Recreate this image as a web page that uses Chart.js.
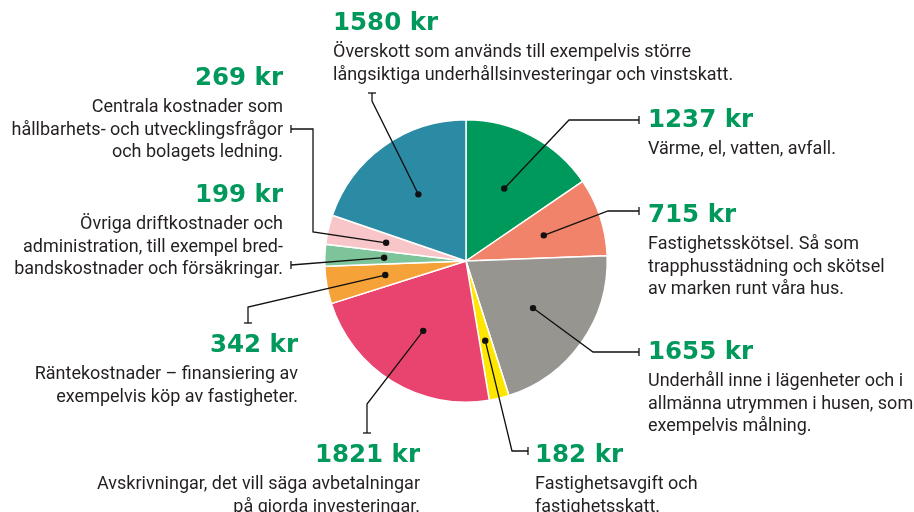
<!DOCTYPE html>
<html>
<head>
<meta charset="utf-8">
<script src="https://cdn.jsdelivr.net/npm/chart.js@4"></script>
<style>
  body { margin: 0; background: #fff; }
</style>
</head>
<body>
<canvas id="kaka" width="914" height="512"></canvas>
<script>
// Vart hyran går, i kronor (summa 8000 kr)
const belopp = [1237, 715, 1655, 182, 1821, 342, 199, 269, 1580];
const rubriker = ['1237 kr', '715 kr', '1655 kr', '182 kr', '1821 kr', '342 kr', '199 kr', '269 kr', '1580 kr'];
const beskrivningar = [
    ['Värme, el, vatten, avfall.'],
    ['Fastighetsskötsel. Så som', 'trapphusstädning och skötsel', 'av marken runt våra hus.'],
    ['Underhåll inne i lägenheter och i', 'allmänna utrymmen i husen, som', 'exempelvis målning.'],
    ['Fastighetsavgift och', 'fastighetsskatt.'],
    ['Avskrivningar, det vill säga avbetalningar', 'på gjorda investeringar.'],
    ['Räntekostnader – finansiering av', 'exempelvis köp av fastigheter.'],
    ['Övriga driftkostnader och', 'administration, till exempel bred-', 'bandskostnader och försäkringar.'],
    ['Centrala kostnader som', 'hållbarhets- och utvecklingsfrågor', 'och bolagets ledning.'],
    ['Överskott som används till exempelvis större', 'långsiktiga underhållsinvesteringar och vinstskatt.']
];
const farger = ['#00995c', '#f08369', '#979590', '#ffe600', '#e9446f', '#f5a238', '#7dc49a', '#f8c6c9', '#2b8ba4'];

// Textplacering: x, baslinje för beloppet, justering
const textlagen = [
    { x: 648, y: 127, align: 'left' },
    { x: 648, y: 222, align: 'left' },
    { x: 648, y: 359, align: 'left' },
    { x: 535, y: 462, align: 'left' },
    { x: 420, y: 462, align: 'right' },
    { x: 298, y: 352, align: 'right' },
    { x: 283, y: 202, align: 'right' },
    { x: 283, y: 85, align: 'right' },
    { x: 333, y: 30, align: 'left' }
];
// Hänvisningslinjer: brytpunkter från tårtbiten ut till texten, sista punkten får ett litet tvärstreck
const linjer = [
    { pts: [[569, 120], [639, 120]], tick: 'v' },
    { pts: [[608, 211], [639, 211]], tick: 'v' },
    { pts: [[593, 352], [639, 352]], tick: 'v' },
    { pts: [[512, 451], [528, 451]], tick: 'v' },
    { pts: [[367, 404], [367, 433]], tick: 'h' },
    { pts: [[248, 307], [248, 323]], tick: 'h' },
    { pts: [[291, 265]], tick: 'v' },
    { pts: [[313, 232], [313, 129], [291, 129]], tick: 'v' },
    { pts: [[372, 101], [372, 93]], tick: 'h' }
];

const etiketter = {
    id: 'etiketter',
    afterDraw(chart) {
        const ctx = chart.ctx;
        const meta = chart.getDatasetMeta(0);
        ctx.save();
        meta.data.forEach((arc, i) => {
            const p = arc.getProps(['x', 'y', 'startAngle', 'endAngle', 'outerRadius'], true);
            const mitt = (p.startAngle + p.endAngle) / 2;
            const r = p.outerRadius * 0.58;
            const px = p.x + Math.cos(mitt) * r;
            const py = p.y + Math.sin(mitt) * r;

            // linje
            ctx.strokeStyle = '#111';
            ctx.lineWidth = 1.3;
            ctx.beginPath();
            ctx.moveTo(px, py);
            linjer[i].pts.forEach(pt => ctx.lineTo(pt[0], pt[1]));
            ctx.stroke();
            const sist = linjer[i].pts[linjer[i].pts.length - 1];
            ctx.beginPath();
            if (linjer[i].tick === 'v') {
                ctx.moveTo(sist[0], sist[1] - 4);
                ctx.lineTo(sist[0], sist[1] + 4);
            } else {
                ctx.moveTo(sist[0] - 4, sist[1]);
                ctx.lineTo(sist[0] + 4, sist[1]);
            }
            ctx.stroke();

            // prick
            ctx.fillStyle = '#111';
            ctx.beginPath();
            ctx.arc(px, py, 3.2, 0, Math.PI * 2);
            ctx.fill();

            // texter
            const lage = textlagen[i];
            ctx.textAlign = lage.align;
            ctx.textBaseline = 'alphabetic';
            ctx.fillStyle = '#00985b';
            ctx.font = 'bold 24.5px "DejaVu Sans", sans-serif';
            ctx.fillText(rubriker[i], lage.x, lage.y);
            ctx.fillStyle = '#231f20';
            ctx.font = '18px Roboto, "Noto Sans", sans-serif';
            beskrivningar[i].forEach((rad, j) => {
                ctx.fillText(rad, lage.x, lage.y + 27 + j * 22.5);
            });
        });
        ctx.restore();
    }
};

const ctx = document.getElementById('kaka').getContext('2d');
new Chart(ctx, {
    type: 'pie',
    data: {
        labels: rubriker,
        datasets: [{
            data: belopp,
            backgroundColor: farger,
            borderColor: '#ffffff',
            borderWidth: 1.5
        }]
    },
    options: {
        responsive: false,
        animation: false,
        layout: { padding: { left: 324, right: 306, top: 119, bottom: 109 } },
        plugins: {
            legend: { display: false },
            tooltip: { enabled: false }
        }
    },
    plugins: [etiketter]
});
</script>
</body>
</html>
